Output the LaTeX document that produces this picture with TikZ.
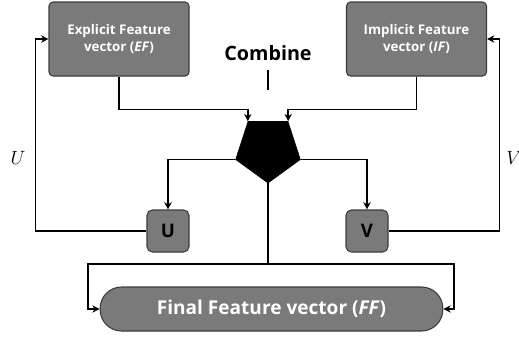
\documentclass[tikz,border=0pt]{standalone}
\usepackage{fontspec}
\setsansfont{Open Sans}
\usetikzlibrary{arrows.meta,shapes.geometric}

\definecolor{boxfill}{RGB}{122,122,122}
\definecolor{boxline}{RGB}{60,60,60}

\tikzset{
  featbox/.style={draw=boxline, fill=boxfill, line width=0.8pt, rounded corners=3pt,
    minimum width=105pt, minimum height=55.5pt, align=center, text=white,
    font=\sffamily\bfseries\fontsize{10}{13}\selectfont},
  wbox/.style={draw=boxline, fill=boxfill, line width=0.8pt, rounded corners=4pt,
    minimum width=31.5pt, minimum height=31.5pt, inner sep=0pt,
    font=\sffamily\bfseries\fontsize{14}{16}\selectfont},
  link/.style={draw=black, line width=1.1pt},
  arr/.style={link, -{Stealth[length=5.5pt,width=5.5pt]}},
  wlabel/.style={font=\fontsize{14}{16}\selectfont}
}

\begin{document}
\begin{tikzpicture}[x=0.75pt,y=0.75pt,yscale=-1,xscale=1]
  \useasboundingbox (0,0) rectangle (519,340);

  % feature boxes
  \node[featbox] (ef) at (119,39) {Explicit Feature\\vector (\textit{EF})};
  \node[featbox] (if) at (416.5,39) {Implicit Feature\\vector (\textit{IF})};

  % combine operator
  \node[font=\sffamily\bfseries\fontsize{14.8}{17}\selectfont] (comb) at (268,53) {Combine};
  \coordinate (bartop) at (268,70);
  \coordinate (barbot) at (268,90);
  \draw[link, line width=1.4pt] (bartop) -- (barbot);
  \node[regular polygon, regular polygon sides=5, shape border rotate=180,
        fill=black, draw=black, minimum size=51pt, inner sep=0pt] (pent) at (268,149) {};

  % weight boxes
  \node[wbox] (u) at (168,231) {U};
  \node[wbox] (v) at (367,231) {V};

  % final vector
  \node[draw=boxline, fill=boxfill, line width=0.8pt, rounded corners=16pt,
        minimum width=257pt, minimum height=33pt, text=white,
        font=\sffamily\bfseries\fontsize{14.3}{17}\selectfont] (ff) at (271.5,309) {Final Feature vector (\textit{FF})};

  % inputs to combine
  \draw[arr] (ef.south) -- ++(0,33) -| (pent.corner 4);
  \draw[arr] (if.south) -- ++(0,33) -| (pent.corner 3);

  % combine to weights
  \draw[arr] (pent.corner 5) -| (u.north);
  \draw[arr] (pent.corner 2) -| (v.north);

  % feedback loops
  \draw[arr] (u.west) -- ++(-111,0) |- (ef.west);
  \draw[arr] (v.east) -- ++(111,0) |- (if.east);
  \node[wlabel] (ulab) at (18,158) {$U$};
  \node[wlabel] (vlab) at (514,158) {$V$};

  % combine to final vector
  \coordinate (split) at (268,264);
  \coordinate (splitl) at (88,264);
  \coordinate (splitr) at (454,264);
  \draw[link] (pent.corner 1) -- (split);
  \draw[arr] (split) -- (splitl) |- (ff.west);
  \draw[arr] (split) -- (splitr) |- (ff.east);
\end{tikzpicture}
\end{document}
